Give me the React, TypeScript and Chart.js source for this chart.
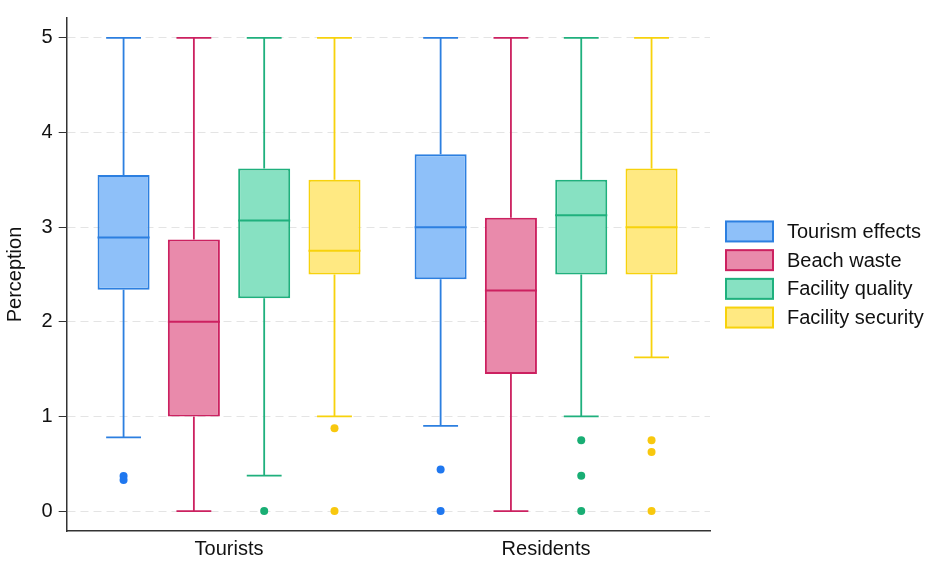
import { useEffect, useRef } from "react";
import { Chart, registerables } from "chart.js";

Chart.register(...registerables);

const groups = ["Tourists", "Residents"];
const seriesNames = ["Tourism effects", "Beach waste", "Facility quality", "Facility security"];
const fills = ["#8ec0f9", "#e98aab", "#87e1c2", "#ffe982"];
const strokes = ["#2c7fe0", "#cc2160", "#1fb07d", "#f7d20c"];
const dotColors = ["#1f77ef", "#cc2160", "#19ae74", "#f8c80e"];

// one entry per series, one value per group (Tourists, Residents)
const whiskerLow = [[0.78, 0.9], [0, 0], [0.375, 1], [1, 1.625]];
const q1 = [[2.34, 2.45], [1, 1.45], [2.25, 2.5], [2.5, 2.5]];
const median = [[2.89, 3], [2, 2.33], [3.07, 3.125], [2.75, 3]];
const q3 = [[3.55, 3.77], [2.87, 3.1], [3.62, 3.5], [3.5, 3.62]];
const whiskerHigh = [[5, 5], [5, 5], [5, 5], [5, 5]];
const outliers = [
  [[0.37, 0.33], [0.44, 0]],
  [[], []],
  [[0], [0.75, 0.375, 0]],
  [[0.875, 0], [0.75, 0.625, 0]],
];
const yTicks = [0, 1, 2, 3, 4, 5];

const FONT = '"Liberation Sans", Arial, sans-serif';

const boxPlot = {
  id: "boxPlot",
  beforeDatasetsDraw(chart: any) {
    const { ctx } = chart;
    const y = chart.scales.y;
    chart.data.datasets.forEach((_: any, s: number) => {
      chart.getDatasetMeta(s).data.forEach((bar: any, g: number) => {
        const x = bar.x;
        const cap = bar.width * 0.67;
        const top = y.getPixelForValue(whiskerHigh[s][g]);
        const bottom = y.getPixelForValue(whiskerLow[s][g]);
        ctx.save();
        ctx.strokeStyle = strokes[s];
        ctx.lineWidth = 1.8;
        ctx.beginPath();
        ctx.moveTo(x, top);
        ctx.lineTo(x, y.getPixelForValue(q3[s][g]));
        ctx.moveTo(x, y.getPixelForValue(q1[s][g]));
        ctx.lineTo(x, bottom);
        ctx.moveTo(x - cap / 2, top);
        ctx.lineTo(x + cap / 2, top);
        ctx.moveTo(x - cap / 2, bottom);
        ctx.lineTo(x + cap / 2, bottom);
        ctx.stroke();
        ctx.restore();
      });
    });
  },
  afterDatasetsDraw(chart: any) {
    const { ctx } = chart;
    const y = chart.scales.y;
    chart.data.datasets.forEach((_: any, s: number) => {
      chart.getDatasetMeta(s).data.forEach((bar: any, g: number) => {
        const x = bar.x;
        const half = bar.width / 2;
        const my = y.getPixelForValue(median[s][g]);
        ctx.save();
        ctx.strokeStyle = strokes[s];
        ctx.lineWidth = 2;
        ctx.beginPath();
        ctx.moveTo(x - half, my);
        ctx.lineTo(x + half, my);
        ctx.stroke();
        ctx.fillStyle = dotColors[s];
        outliers[s][g].forEach((v) => {
          ctx.beginPath();
          ctx.arc(x, y.getPixelForValue(v), 4, 0, Math.PI * 2);
          ctx.fill();
        });
        ctx.restore();
      });
    });
  },
  afterDraw(chart: any) {
    const { ctx, chartArea } = chart;
    const step = 28.7;
    const boxW = 47;
    const boxH = 20;
    const n = chart.data.datasets.length;
    const top = (chartArea.top + chartArea.bottom) / 2 - ((n - 1) * step + boxH) / 2;
    const left = chartArea.right + 16;
    ctx.save();
    ctx.font = `20px ${FONT}`;
    ctx.textBaseline = "middle";
    chart.data.datasets.forEach((ds: any, s: number) => {
      const by = top + s * step;
      ctx.fillStyle = fills[s];
      ctx.fillRect(left, by, boxW, boxH);
      ctx.strokeStyle = strokes[s];
      ctx.lineWidth = 2;
      ctx.strokeRect(left, by, boxW, boxH);
      ctx.fillStyle = "#111";
      ctx.fillText(ds.label, left + boxW + 14, by + boxH / 2 + 1);
    });
    ctx.restore();
  },
};

export default function App() {
  const canvasRef = useRef<HTMLCanvasElement>(null);

  useEffect(() => {
    if (!canvasRef.current) return;
    Chart.defaults.font.family = FONT;
    const chart = new Chart(canvasRef.current, {
      type: "bar",
      data: {
        datasets: seriesNames.map((name, s) => ({
          label: name,
          data: groups.map((_, g) => ({ x: g, y: [q1[s][g], q3[s][g]] })),
          backgroundColor: fills[s],
          borderColor: strokes[s],
          borderWidth: 2,
          borderSkipped: false,
          categoryPercentage: 0.887,
          barPercentage: 0.74,
        })),
      },
      options: {
        animation: false,
        responsive: true,
        maintainAspectRatio: false,
        layout: { padding: { top: 14, right: 225, bottom: 0, left: 0 } },
        plugins: { legend: { display: false }, tooltip: { enabled: false } },
        scales: {
          x: {
            type: "linear",
            offset: false,
            min: -0.512,
            max: 1.517,
            afterBuildTicks: (scale: any) => {
              scale.ticks = groups.map((_, g) => ({ value: g }));
            },
            grid: { display: false, drawTicks: false, offset: false },
            border: { color: "#333", width: 1.5 },
            ticks: {
              color: "#111",
              font: { size: 20 },
              padding: 6,
              callback: (v: any) => groups[v] ?? "",
            },
            afterFit: (scale: any) => {
              scale.height = 32;
            },
          },
          y: {
            min: -0.21,
            max: 5.21,
            afterBuildTicks: (scale: any) => {
              scale.ticks = yTicks.map((v) => ({ value: v }));
            },
            grid: { color: "#e4e4e4", lineWidth: 1, tickColor: "#333", tickLength: 8 },
            border: { color: "#333", width: 1.5, dash: [8, 5] },
            ticks: { color: "#111", font: { size: 20 }, padding: 6 },
            title: {
              display: true,
              text: "Perception",
              color: "#111",
              font: { size: 20 },
              padding: { top: 3, bottom: 0 },
            },
            afterFit: (scale: any) => {
              scale.width = 66.7;
            },
          },
        },
      },
      plugins: [boxPlot],
    });
    return () => chart.destroy();
  }, []);

  return (
    <div style={{ position: "absolute", left: 0, top: 0, width: 935, height: 563, background: "#fff" }}>
      <canvas ref={canvasRef} />
    </div>
  );
}
